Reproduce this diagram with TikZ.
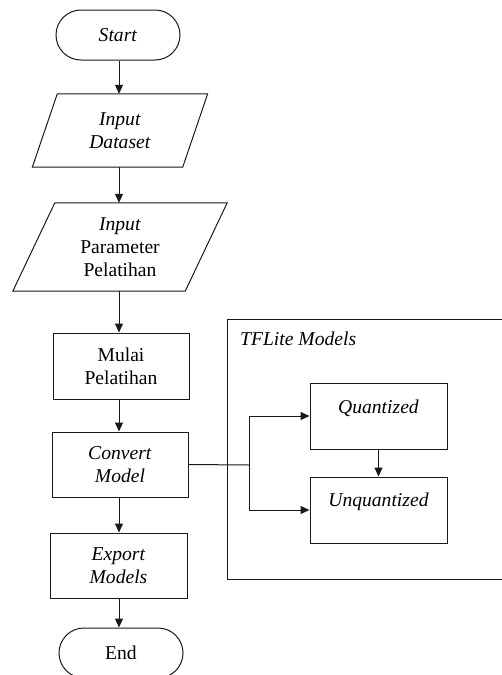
\documentclass[tikz,border=0pt]{standalone}
\usepackage{fontspec}
\setmainfont{Liberation Serif}
\usetikzlibrary{arrows.meta}

\begin{document}
\begin{tikzpicture}[x=1pt,y=-1pt,
  line/.style={draw=black!90, line width=1pt},
  arr/.style={line, -{Triangle[length=9pt,width=8pt]}},
  txt/.style={align=center, inner sep=0pt, font=\fontsize{19.6}{23}\selectfont},
  procbox/.style={txt, line, minimum width=#1, minimum height=65},
  termbox/.style={txt, line, rounded corners=25, minimum width=124, minimum height=50},
  iobox/.style n args={2}{txt, minimum width=#1, minimum height=#2},
]
% page frame
\useasboundingbox (0,0) rectangle (502,675);
\clip (0,0) rectangle (502,675);

% main column
\node[termbox] (start) at (118,35) {\textit{Start}};

\node[iobox={150}{73}] (ds) at (120,130.5) {\textit{Input}\\\textit{Dataset}};
\draw[line] ([xshift=12.5]ds.north west) -- ([xshift=12.5]ds.north east)
  -- ([xshift=-12.5]ds.south east) -- ([xshift=-12.5]ds.south west) -- cycle;

\node[iobox={172}{88}] (param) at (120,247) {\textit{Input}\\Parameter\\Pelatihan};
\draw[line] ([xshift=21]param.north west) -- ([xshift=21]param.north east)
  -- ([xshift=-21]param.south east) -- ([xshift=-21]param.south west) -- cycle;

\node[procbox=136, minimum height=66] (train) at (121,366) {Mulai\\Pelatihan};
\node[procbox=136] (conv) at (120,464.5) {\textit{Convert}\\\textit{Model}};
\node[procbox=137] (export) at (118.5,565.5) {\textit{Export}\\\textit{Models}};
\node[termbox] (end) at (121,653) {End};

% TFLite group
\draw[line] (227,319) rectangle (530,579);
\node[txt, anchor=west] (grp) at (240,339) {\textit{TFLite Models}};
\node[procbox=137, minimum height=66] (quant) at (378.5,416)
  {\raisebox{8pt}[\height][\depth]{\textit{Quantized}}};
\node[procbox=137, minimum height=66] (unq) at (378.5,510)
  {\raisebox{8pt}[\height][\depth]{\textit{Unquantized}}};

% connectors
\draw[arr] (start.south -| 119,0) -- (ds.north -| 119,0);
\draw[arr] (ds.south -| 119,0) -- (param.north -| 119,0);
\draw[arr] (param.south -| 119,0) -- (train.north -| 119,0);
\draw[arr] (train.south -| 119,0) -- (conv.north -| 119,0);
\draw[arr] (conv.south -| 119,0) -- (export.north -| 119,0);
\draw[arr] (export.south -| 119,0) -- (end.north -| 119,0);
\draw[arr] (quant.south) -- (unq.north);

\coordinate (split) at (249,465);
\draw[line] (conv.east) -- (split);
\draw[arr] (split) |- (quant.west);
\draw[arr] (split) |- (unq.west);
\end{tikzpicture}
\end{document}
